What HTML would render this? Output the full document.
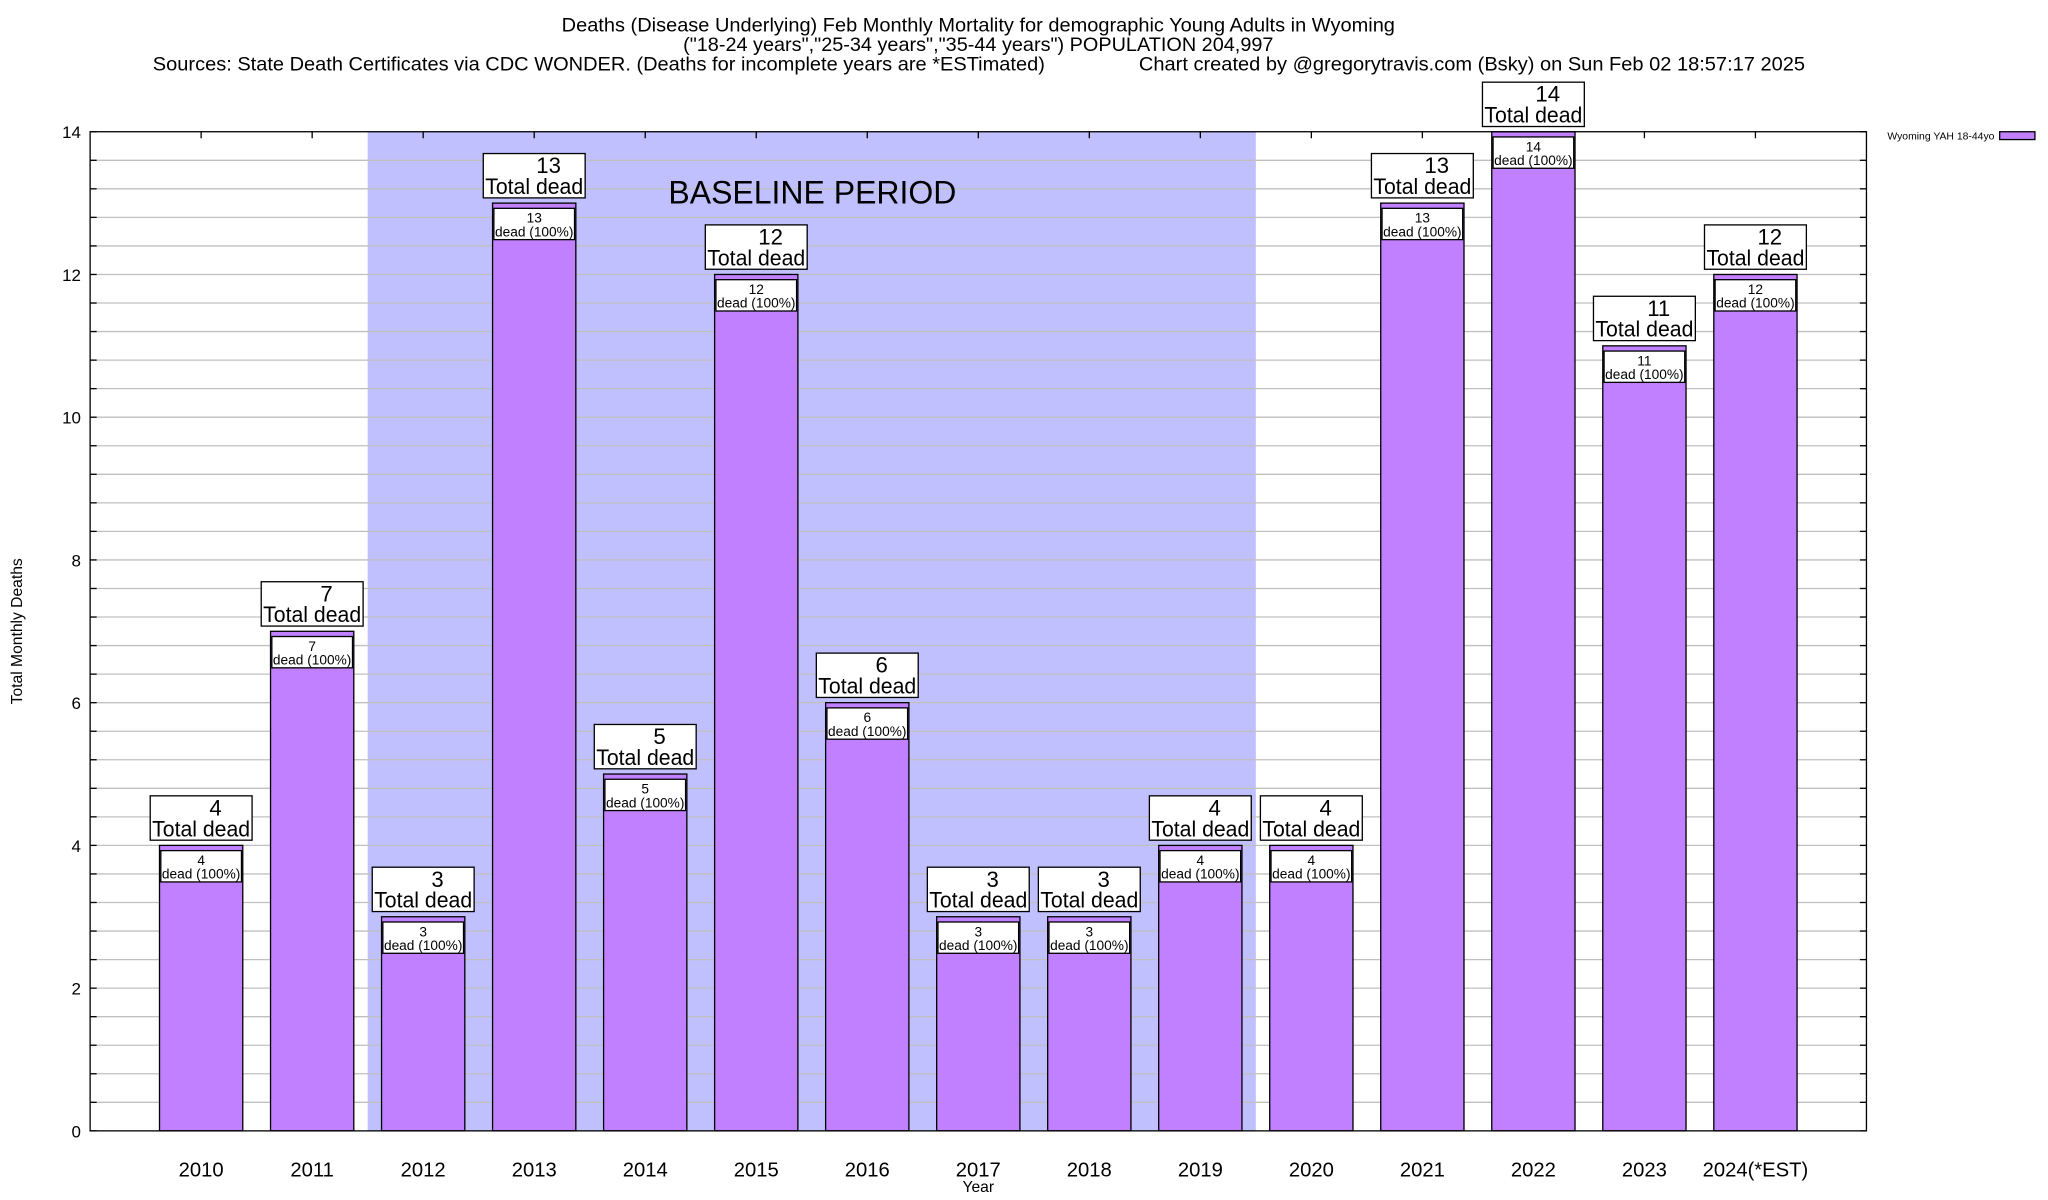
<!DOCTYPE html>
<html><head><meta charset="utf-8"><style>
html,body{margin:0;padding:0;background:#fff;}
svg{display:block;font-family:"Liberation Sans",Arial,sans-serif;}
</style></head><body>
<svg id="chart" width="2048" height="1200" viewBox="0 0 1568 920" preserveAspectRatio="none" xmlns="http://www.w3.org/2000/svg">
<rect width="1568" height="920" fill="#fff"/>
<g font-size="15" text-anchor="middle">
<text x="749" y="24" textLength="638" lengthAdjust="spacingAndGlyphs">Deaths (Disease Underlying) Feb Monthly Mortality for demographic Young Adults in Wyoming</text>
<text x="749" y="39" textLength="452" lengthAdjust="spacingAndGlyphs">("18-24 years","25-34 years","35-44 years") POPULATION 204,997</text>
<text x="117" y="54" text-anchor="start" textLength="683" lengthAdjust="spacingAndGlyphs">Sources: State Death Certificates via CDC WONDER. (Deaths for incomplete years are *ESTimated)</text>
<text x="872" y="54" text-anchor="start" textLength="510" lengthAdjust="spacingAndGlyphs">Chart created by @gregorytravis.com (Bsky) on Sun Feb 02 18:57:17 2025</text>
</g>
<g id="plot"></g>
<text x="17" y="484" font-size="12" text-anchor="middle" transform="rotate(-90 17 484)">Total Monthly Deaths</text>
<text x="749" y="914" font-size="12" text-anchor="middle">Year</text>
<g>
<text x="1527" y="107" font-size="7.5" text-anchor="end" textLength="82" lengthAdjust="spacingAndGlyphs">Wyoming YAH 18-44yo</text>
<rect x="1531" y="101" width="27" height="6" fill="#c080ff" stroke="#000" stroke-width="1"/>
</g>
</svg>
<script>
const categories = ["2010","2011","2012","2013","2014","2015","2016","2017","2018","2019","2020","2021","2022","2023","2024(*EST)"];
const deaths = [4,7,3,13,5,12,6,3,3,4,4,13,14,11,12];
const yTicks = [0,2,4,6,8,10,12,14];
const baseline = [1.5,9.5];

const NS="http://www.w3.org/2000/svg";
const L=69,R=1429,T=101,B=867,XMIN=-1,XMAX=15,YMIN=0,YMAX=14;
const xs=i=>L+(i-XMIN)/(XMAX-XMIN)*(R-L);
const ys=v=>B-(v-YMIN)/(YMAX-YMIN)*(B-T);
const g=document.getElementById('plot');
function mk(tag,attrs,parent){const e=document.createElementNS(NS,tag);for(const k in attrs)e.setAttribute(k,attrs[k]);(parent||g).appendChild(e);return e;}

const sh=mk('rect',{x:xs(baseline[0]),y:T,width:xs(baseline[1])-xs(baseline[0]),height:B-T,fill:'#c0c0ff'});



for(let v=0;v<=YMAX+1e-9;v+=0.4){
  const y=ys(v);
  if(v>0&&v<YMAX-1e-6){const gl=mk('line',{x1:L,x2:R,y1:y,y2:y,stroke:'#c0c0c0','stroke-width':1});
  
  }
  mk('line',{x1:L,x2:L+5,y1:y,y2:y,stroke:'#000','stroke-width':1});
  mk('line',{x1:R,x2:R-5,y1:y,y2:y,stroke:'#000','stroke-width':1});
}
yTicks.forEach(t=>{
  const tl=mk('text',{x:L-7,y:ys(t)+5,'font-size':13,'text-anchor':'end'});
  
  
  tl.textContent=t;
});

const bl=mk('text',{x:622,y:156,'font-size':24.5,'text-anchor':'middle'});


bl.textContent='BASELINE PERIOD';

const bw=0.75;
categories.forEach((c,i)=>{
  const v=deaths[i];
  const cx=xs(i);
  const x0=xs(i-bw/2),x1=xs(i+bw/2);
  mk('line',{x1:cx,x2:cx,y1:T,y2:T+5,stroke:'#000','stroke-width':1});
  const bar=mk('rect',{x:x0,y:ys(v),width:x1-x0,height:B-ys(v),fill:'#c080ff',stroke:'#000','stroke-width':1});
  
  
  const ib=mk('rect',{x:x0+1,y:ys(v)+4,width:x1-x0-2,height:24,fill:'#fff',stroke:'#000','stroke-width':1});
  
  
  const it1=mk('text',{x:cx,y:ys(v)+15,'font-size':10.5,'text-anchor':'middle'});
  
  
  it1.textContent=v;
  const it2=mk('text',{x:cx,y:ys(v)+25.5,'font-size':10.5,'text-anchor':'middle'});
  
  
  it2.textContent='dead (100%)';
  const by=ys(v)-38;
  const tb=mk('rect',{x:cx-39,y:by,width:78,height:34,fill:'#fff',stroke:'#000','stroke-width':1});
  
  
  const t1=mk('text',{x:cx+11,y:by+15,'font-size':17,'text-anchor':'middle'});
  
  
  t1.textContent=v;
  const t2=mk('text',{x:cx,y:by+31,'font-size':17,'text-anchor':'middle','textLength':75,'lengthAdjust':'spacingAndGlyphs'});
  
  
  t2.textContent='Total dead';
  const xl=mk('text',{x:cx,y:902,'font-size':15.5,'text-anchor':'middle'});
  
  
  xl.textContent=c;
});
const fr=mk('rect',{x:L,y:T,width:R-L,height:B-T,fill:'none',stroke:'#000','stroke-width':1});


</script>
</body></html>
